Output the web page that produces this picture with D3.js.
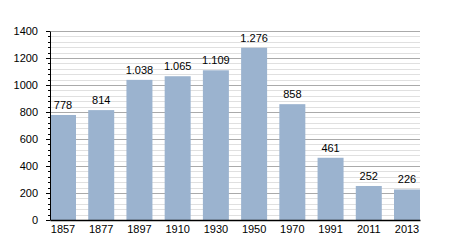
<!DOCTYPE html>
<html>
<head>
<meta charset="utf-8">
<script src="https://cdn.jsdelivr.net/npm/d3@7"></script>
<style>
  body { margin: 0; background: #fff; }
  text { font-family: "Liberation Sans", Arial, sans-serif; font-size: 11px; fill: #000; }
</style>
</head>
<body>
<div id="chart"></div>
<script>
var years = ["1857", "1877", "1897", "1910", "1930", "1950", "1970", "1991", "2011", "2013"];
var population = [778, 814, 1038, 1065, 1109, 1276, 858, 461, 252, 226];
var yTicks = [0, 200, 400, 600, 800, 1000, 1200, 1400];

(function() {
    var width = 450,
        height = 250,
        plotLeft = 50, plotRight = 420, plotTop = 31, plotBottom = 220;

    var svg = d3.select("#chart")
        .append("svg")
        .attr("width", width)
        .attr("height", height)

    var x = d3.scaleBand().domain(years).range([plotLeft, plotRight]).paddingInner(0.32).paddingOuter(0)
    var y = d3.scaleLinear().domain([0, 1400]).range([plotBottom, plotTop])

    var fmt = function(v) { return d3.format(",")(v).replace(/,/g, ".") }

    // minor grid every 40
    var minor = d3.range(0, 1401, 40).filter(function(v) { return v % 200 != 0 })
    svg.selectAll(".minor")
        .data(minor)
        .enter().append("line")
        .attr("x1", plotLeft).attr("x2", plotRight)
        .attr("y1", function(d) { return Math.round(y(d)) + 0.5 })
        .attr("y2", function(d) { return Math.round(y(d)) + 0.5 })
        .attr("stroke", "#e0e0e0")

    svg.selectAll(".major")
        .data(yTicks.slice(1))
        .enter().append("line")
        .attr("x1", plotLeft).attr("x2", plotRight)
        .attr("y1", function(d) { return Math.round(y(d)) + 0.5 })
        .attr("y2", function(d) { return Math.round(y(d)) + 0.5 })
        .attr("stroke", "#aaaaaa")

    svg.selectAll(".bar")
        .data(population)
        .enter().append("rect")
        .attr("x", function(d, i) { return x(years[i]) })
        .attr("width", x.bandwidth())
        .attr("y", function(d) { return y(d) })
        .attr("height", function(d) { return y(0) - y(d) })
        .attr("fill", "#9bb3cf")

    svg.selectAll(".val")
        .data(population)
        .enter().append("text")
        .attr("x", function(d, i) { return x(years[i]) + x.bandwidth() / 2 })
        .attr("y", function(d) { return y(d) - 6 })
        .attr("text-anchor", "middle")
        .text(function(d) { return fmt(d) })

    // y axis with minor ticks
    var yAxis = svg.append("g")
        .attr("transform", "translate(" + plotLeft + ",0)")
        .call(d3.axisLeft(y).tickValues(yTicks).tickSize(4).tickPadding(8).tickFormat(d3.format("d")).tickSizeOuter(0))
    yAxis.selectAll("text").style("font-size", "11px")
    svg.selectAll(".mtick")
        .data(minor)
        .enter().append("line")
        .attr("x1", plotLeft - 2).attr("x2", plotLeft)
        .attr("y1", function(d) { return Math.round(y(d)) + 0.5 })
        .attr("y2", function(d) { return Math.round(y(d)) + 0.5 })
        .attr("stroke", "#000")

    var xAxis = svg.append("g")
        .attr("transform", "translate(0," + plotBottom + ")")
        .call(d3.axisBottom(x).tickSize(0).tickPadding(5).tickSizeOuter(0))
    xAxis.select(".domain").attr("stroke", "#000").attr("stroke-width", 1.5)
    xAxis.selectAll("text").style("font-size", "11px")
})();
</script>
</body>
</html>
